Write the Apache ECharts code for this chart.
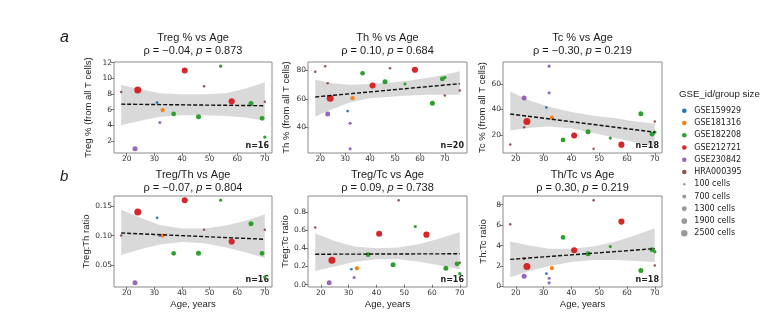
<!DOCTYPE html>
<html><head><meta charset="utf-8">
<script src="https://cdn.jsdelivr.net/npm/echarts@6/dist/echarts.min.js"></script>
<style>html,body{margin:0;padding:0;background:#fff}#c{width:781px;height:330px}</style>
</head><body><div id="c"></div>
<script>
// ---------- data ----------
const groups = ['GSE159929','GSE181316','GSE182208','GSE212721','GSE230842','HRA000395'];
const groupColors = ['#1f77b4','#ff7f0e','#2ca02c','#d62728','#9467bd','#8c564b'];
const sizeLegendCells = [100,700,1300,1900,2500];
const sizeLegendLabels = ['100 cells','700 cells','1300 cells','1900 cells','2500 cells'];

const sampleAge   = [18,22,23,24,23,31,33,32,32,37,41,46,48,54,58,65,69,70,70,76];
const sampleGroup = ['HRA000395','HRA000395','HRA000395','GSE212721','GSE230842','GSE159929','GSE181316','GSE230842','GSE230842','GSE182208','GSE212721','GSE182208','HRA000395','GSE182208','GSE212721','GSE182208','GSE182208','GSE182208','HRA000395','HRA000395'];
const sampleCells = [100,100,100,2950,1350,150,900,300,300,1150,2100,1350,100,350,2200,1350,1200,450,100,100];

const tregPct = [8.25,null,null,8.5,1.0,6.9,5.95,4.35,null,5.45,11.0,5.1,9.0,11.55,7.05,6.8,4.9,2.5,7.0,null];
const thPct   = [79,83,71,60.5,49.5,51.5,60.5,43,25,78,69.5,72,81.5,70.5,80.5,57,74,75,62.5,66];
const tcPct   = [12.5,null,26,30.5,49,41.5,33.5,53,74,16,19.5,22.5,9,17.5,12.3,36.5,20.5,22,30.5,null];
const tregTh  = [0.10,null,null,0.14,0.02,0.13,0.10,0.10,null,0.07,0.16,0.07,0.11,0.16,0.09,0.12,0.07,0.03,0.11,null];
const tregTc  = [0.63,null,null,0.27,0.02,0.17,0.18,0.08,null,0.33,0.56,0.22,0.93,0.64,0.55,0.18,0.23,0.12,0.24,null];
const thTc    = [6.1,null,2.7,1.95,1.0,1.25,1.8,0.8,0.35,4.8,3.55,3.2,8.45,3.9,6.35,1.55,3.6,3.4,2.05,null];

const panelTitles = ['Treg % vs Age','Th % vs Age','Tc % vs Age','Treg/Th vs Age','Treg/Tc vs Age','Th/Tc vs Age'];
const panelRho = ['−0.04','0.10','−0.30','−0.07','0.09','0.30'];
const panelP   = ['0.873','0.684','0.219','0.804','0.738','0.219'];
const panelYLabels = ['Treg % (from all T cells)','Th % (from all T cells)','Tc % (from all T cells)','Treg:Th ratio','Treg:Tc ratio','Th:Tc ratio'];
const xTicks = [20,30,40,50,60,70];
const yTicks1 = [2,4,6,8,10,12];
const yTicks2 = [40,60,80];
const yTicks3 = [20,40,60];
const yTicks4 = [0.05,0.10,0.15];
const yTickLabels4 = ['0.05','0.10','0.15'];
const yTicks5 = [0.0,0.2,0.4,0.6,0.8];
const yTickLabels5 = ['0.0','0.2','0.4','0.6','0.8'];
const yTicks6 = [0,2,4,6,8];

// regression line (read at first and last age of each panel)
const fitStart = [6.7, 61.4, 36.4, 0.1044, 0.335, 2.65];
const fitEnd   = [6.5, 70.7, 22.1, 0.0938, 0.34, 3.7];

// confidence bands
const bandAge1 = [18,25,32,40,48,56,63,70];
const bandUp1  = [9.15,8.6,8.1,7.95,7.95,8.1,8.7,9.5];
const bandLo1  = [4.0,4.6,5.1,5.3,5.3,5.2,5.0,4.6];
const bandAge2 = [18,25,32,40,48,56,64,70,76];
const bandUp2  = [73.5,71,70,70.5,71.5,73,75,77,79.5];
const bandLo2  = [47.5,53,57.5,60.5,61.5,62.5,63,63,63];
const bandAge3 = [18,25,32,40,48,56,63,70];
const bandUp3  = [54,47,42,38,35,33,30.5,29];
const bandLo3  = [23.5,25.5,26.5,25,21.5,17.5,14,11];
const bandAge4 = [18,25,32,40,48,56,63,70];
const bandUp4  = [0.144,0.13,0.118,0.112,0.112,0.117,0.125,0.136];
const bandLo4  = [0.067,0.077,0.085,0.089,0.087,0.08,0.072,0.062];
const bandAge5 = [18,25,32,40,48,56,63,70];
const bandUp5  = [0.565,0.48,0.42,0.40,0.41,0.45,0.51,0.58];
const bandLo5  = [0.15,0.20,0.25,0.28,0.28,0.25,0.21,0.17];
const bandAge6 = [18,25,32,40,48,56,63,70];
const bandUp6  = [4.4,4.0,3.7,3.7,3.9,4.4,5.0,5.7];
const bandLo6  = [0.9,1.5,2.0,2.4,2.6,2.6,2.5,2.4];

// ---------- layout ----------
const panels = [
  {vals: tregPct, yTicks: yTicks1, yLab: null, band: [bandAge1,bandUp1,bandLo1]},
  {vals: thPct,   yTicks: yTicks2, yLab: null, band: [bandAge2,bandUp2,bandLo2]},
  {vals: tcPct,   yTicks: yTicks3, yLab: null, band: [bandAge3,bandUp3,bandLo3]},
  {vals: tregTh,  yTicks: yTicks4, yLab: yTickLabels4, band: [bandAge4,bandUp4,bandLo4]},
  {vals: tregTc,  yTicks: yTicks5, yLab: yTickLabels5, band: [bandAge5,bandUp5,bandLo5]},
  {vals: thTc,    yTicks: yTicks6, yLab: null, band: [bandAge6,bandUp6,bandLo6]}
];
const boxLeft = [114,308,503], boxWidth = [158,159,159], boxTop = [62,196], boxH = 91;
const yNameGap = [21,16.5,15.5,22.5,16.5,14.5];

const TXT = '#1a1a1a';
const sizeFor = c => Math.sqrt(4.75 + 0.015 * c);

const grids = [], xAxes = [], yAxes = [], series = [], graphics = [];

panels.forEach((p, i) => {
  const col = i % 3, row = Math.floor(i / 3);
  const L = boxLeft[col], W = boxWidth[col], T = boxTop[row];
  grids.push({left: L, top: T, width: W, height: boxH, show: true, borderColor: '#8a8a8a', borderWidth: 1,
    backgroundColor: 'transparent', containLabel: false, outerBoundsMode: 'none'});
  const idx = p.vals.map((v, k) => v == null ? -1 : k).filter(k => k >= 0);
  const ages = idx.map(k => sampleAge[k]), vals = idx.map(k => p.vals[k]);
  const aMin = Math.min(...ages), aMax = Math.max(...ages);
  const vMin = Math.min(...vals), vMax = Math.max(...vals);
  const ar = aMax - aMin, vr = vMax - vMin;
  xAxes.push({
    gridIndex: i, type: 'value', min: aMin - 0.05 * ar, max: aMax + 0.05 * ar,
    axisLine: {show: false}, splitLine: {show: false},
    axisTick: {show: true, length: 3, customValues: xTicks, lineStyle: {color: '#555', width: 0.8}},
    axisLabel: {customValues: xTicks, fontFamily: 'DejaVu Sans', fontSize: 7.5, color: '#333', margin: 2},
    name: row === 1 ? 'Age, years' : '', nameLocation: 'middle', nameGap: 12.5,
    nameTextStyle: {fontFamily: 'Liberation Sans', fontSize: 9.5, color: TXT}
  });
  yAxes.push({
    gridIndex: i, type: 'value', min: vMin - 0.05 * vr, max: vMax + 0.05 * vr,
    axisLine: {show: false}, splitLine: {show: false},
    axisTick: {show: true, length: 3, customValues: p.yTicks, lineStyle: {color: '#555', width: 0.8}},
    axisLabel: {customValues: p.yTicks, fontFamily: 'DejaVu Sans', fontSize: 7.5, color: '#333', margin: 2,
      formatter: v => { const j = p.yTicks.findIndex(t => Math.abs(t - v) < 1e-9); return p.yLab && j >= 0 ? p.yLab[j] : String(v); }},
    name: panelYLabels[i], nameLocation: 'middle', nameGap: yNameGap[i], nameRotate: 90,
    nameTextStyle: {fontFamily: 'Liberation Sans', fontSize: 9.5, color: TXT}
  });
  // band
  const [bA, bU, bL] = p.band;
  series.push({
    type: 'custom', xAxisIndex: i, yAxisIndex: i, silent: true, z: 1,
    data: [[bA[0], bU[0]]],
    renderItem: (params, api) => {
      const pts = [];
      bA.forEach((a, k) => pts.push(api.coord([a, bU[k]])));
      for (let k = bA.length - 1; k >= 0; k--) pts.push(api.coord([bA[k], bL[k]]));
      return {type: 'polygon', shape: {points: pts}, style: {fill: 'rgba(0,0,0,0.15)'}};
    }
  });
  // scatter by group
  groups.forEach((g, gi) => {
    const d = idx.filter(k => sampleGroup[k] === g).map(k => [sampleAge[k], p.vals[k], sampleCells[k]]);
    series.push({
      type: 'scatter', name: g, xAxisIndex: i, yAxisIndex: i, z: 3, data: d,
      symbol: 'circle', symbolSize: v => sizeFor(v[2]),
      itemStyle: {color: groupColors[gi], opacity: 1}, emphasis: {disabled: true}
    });
  });
  // fit line
  series.push({
    type: 'line', xAxisIndex: i, yAxisIndex: i, z: 4, silent: true, symbol: 'none',
    data: [[aMin, fitStart[i]], [aMax, fitEnd[i]]],
    lineStyle: {color: '#111', width: 1.4, type: [4, 2]}
  });
  // titles
  const cx = L + W / 2, ty = row === 0 ? 38 : 175;
  graphics.push({type: 'text', x: cx, y: ty, silent: true,
    style: {text: panelTitles[i], align: 'center', verticalAlign: 'middle', font: '11px "Liberation Sans"', fill: TXT}});
  graphics.push({type: 'text', x: cx, y: ty + 13, silent: true,
    style: {text: 'ρ = ' + panelRho[i] + ', {it|p} = ' + panelP[i], align: 'center', verticalAlign: 'middle',
      font: '11px "Liberation Sans"', fill: TXT,
      rich: {it: {fontStyle: 'italic', fontFamily: 'Liberation Sans', fontSize: 11, fill: TXT}}}});
  graphics.push({type: 'text', x: L + W - 3, y: T + boxH - 3.5, silent: true,
    style: {text: 'n=' + idx.length, align: 'right', verticalAlign: 'bottom', font: 'bold 8px "DejaVu Sans"', fill: '#222'}});
});

graphics.push({type: 'text', x: 60, y: 38, silent: true, style: {text: 'a', align: 'left', verticalAlign: 'middle', font: 'italic 16px "Liberation Sans"', fill: TXT}});
graphics.push({type: 'text', x: 60, y: 177, silent: true, style: {text: 'b', align: 'left', verticalAlign: 'middle', font: 'italic 15px "Liberation Sans"', fill: TXT}});
graphics.push({type: 'text', x: 679, y: 94, silent: true, style: {text: 'GSE_id/group size', align: 'left', verticalAlign: 'middle', font: '9.7px "Liberation Sans"', fill: TXT}});

// size legend dummy series
sizeLegendLabels.forEach(n => series.push({type: 'scatter', name: n, data: [], xAxisIndex: 0, yAxisIndex: 0, itemStyle: {color: '#7f7f7f'}}));

// legends (one per row)
const legendNames = groups.concat(sizeLegendLabels);
const legendSizes = groups.map(() => 4.6).concat(sizeLegendCells.map(sizeFor));
const legends = legendNames.map((n, k) => {
  const w = legendSizes[k], yc = 110.7 + k * 12.26;
  return {
    data: [{name: n, icon: 'circle'}], orient: 'vertical', selectedMode: false,
    left: 684.3 - w / 2, top: yc - 6, padding: 0, itemWidth: w, itemHeight: w,
    textStyle: {fontFamily: 'DejaVu Sans', fontSize: 8, color: '#222', lineHeight: 12, padding: [0, 0, 0, 5 - w / 2]}
  };
});

const chart = echarts.init(document.getElementById('c'), null, {renderer: 'canvas'});
chart.setOption({
  animation: false, backgroundColor: '#fff',
  grid: grids, xAxis: xAxes, yAxis: yAxes, series: series, legend: legends, graphic: graphics
});
</script></body></html>
